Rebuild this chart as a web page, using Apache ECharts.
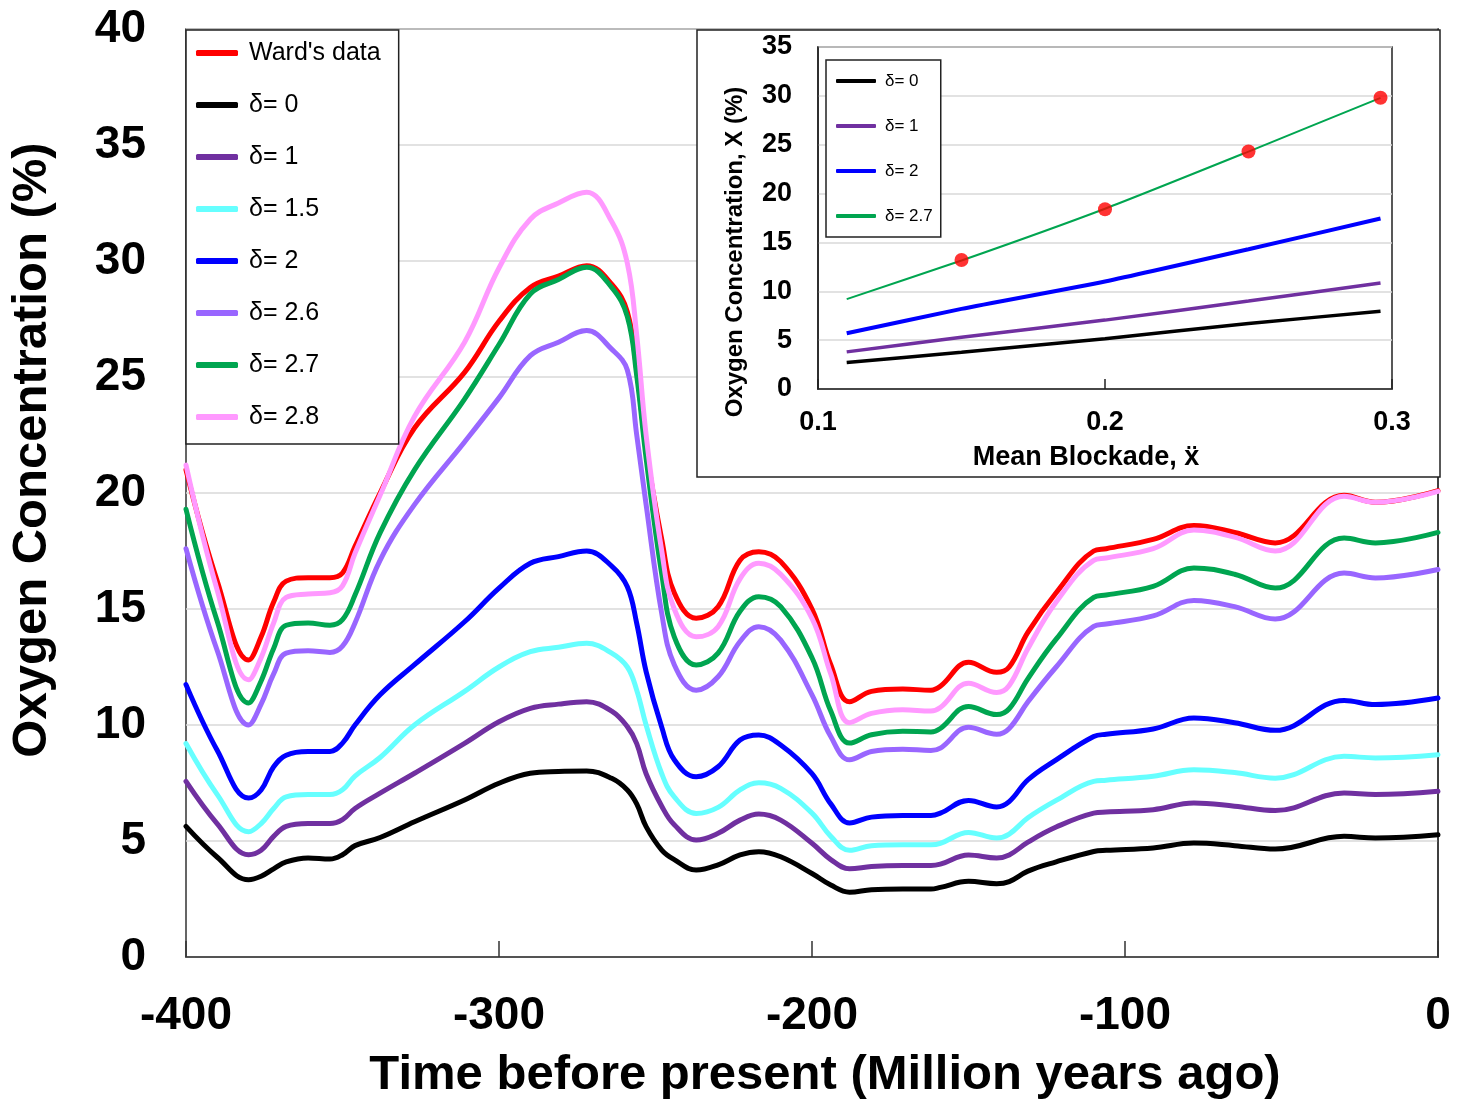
<!DOCTYPE html>
<html>
<head>
<meta charset="utf-8">
<script src="https://cdn.jsdelivr.net/npm/echarts@6/dist/echarts.min.js"></script>
<style>
html,body{margin:0;padding:0;background:#fff;}
#chart{width:1468px;height:1103px;}
</style>
</head>
<body>
<div id="chart"></div>
<script>
// ---- Main chart data (time in Myr before present) ----
const timeX = [-400,-390,-380,-376,-372,-368,-361,-354,-350,-346,-338,-327,-311,-300,-290,-281,-272,-264,-259,-256,-253,-248,-244,-237,-230,-223,-217,-210,-200,-194,-188,-181,-171,-162,-159,-150,-141,-137,-131,-122,-110,-106,-91,-78,-65,-52,-30,-20,0];

const wardData = [21.0,16.2,12.8,13.8,15.3,16.2,16.35,16.35,16.55,17.7,20.0,22.8,25.2,27.4,28.86,29.35,29.8,29.0,27.8,25.3,21.9,18.0,15.7,14.6,15.1,17.1,17.47,17.04,15.0,12.6,11.0,11.45,11.55,11.5,11.67,12.7,12.27,12.5,14.0,15.7,17.5,17.6,18.0,18.6,18.3,17.85,19.9,19.6,20.1];
const delta0 = [5.63,4.3,3.33,3.48,3.8,4.1,4.27,4.22,4.41,4.8,5.15,5.83,6.77,7.49,7.92,8.0,8.02,7.7,7.2,6.6,5.62,4.61,4.2,3.75,3.97,4.4,4.54,4.32,3.6,3.1,2.79,2.9,2.93,2.93,3.0,3.26,3.16,3.25,3.7,4.1,4.55,4.6,4.7,4.91,4.8,4.65,5.2,5.13,5.27];
const delta1 = [7.57,5.74,4.41,4.6,5.2,5.63,5.75,5.75,5.92,6.4,7.06,7.92,9.21,10.14,10.72,10.9,11.0,10.6,9.93,9.2,7.9,6.5,5.7,5.04,5.33,5.9,6.16,5.9,4.9,4.2,3.8,3.9,3.94,3.94,4.0,4.4,4.27,4.4,4.95,5.6,6.2,6.25,6.35,6.64,6.5,6.31,7.07,7.0,7.14];
const delta15 = [9.2,7.0,5.4,5.75,6.4,6.9,7.0,7.0,7.21,7.8,8.6,10.0,11.45,12.5,13.16,13.35,13.52,13.1,12.5,11.5,10.0,7.9,6.9,6.19,6.45,7.2,7.51,7.27,6.2,5.2,4.6,4.8,4.84,4.84,4.9,5.37,5.13,5.3,6.0,6.75,7.57,7.62,7.79,8.07,7.95,7.71,8.65,8.58,8.72];
const delta2 = [11.74,8.9,6.85,7.2,8.2,8.7,8.86,8.86,9.22,10.0,11.3,12.6,14.45,15.9,16.97,17.26,17.5,16.85,15.96,14.38,12.3,9.9,8.5,7.77,8.2,9.35,9.57,9.14,7.9,6.6,5.78,6.03,6.1,6.1,6.2,6.75,6.47,6.7,7.64,8.5,9.5,9.6,9.83,10.3,10.1,9.77,11.06,10.88,11.16];
const delta26 = [17.6,13.2,10.0,10.9,12.2,13.1,13.2,13.13,13.4,14.4,17.1,19.5,22.2,24.1,25.92,26.5,27.0,26.2,25.3,22.5,19.5,14.8,12.6,11.5,12.08,13.6,14.24,13.66,11.3,9.5,8.5,8.86,8.96,8.9,9.0,9.9,9.6,9.85,11.0,12.5,14.25,14.35,14.7,15.37,15.1,14.57,16.55,16.34,16.7];
const delta27 = [19.3,14.46,10.95,11.9,13.3,14.3,14.4,14.3,14.54,15.6,18.28,21.0,24.05,26.4,28.58,29.2,29.73,28.86,27.6,25.06,21.5,16.5,13.8,12.59,13.1,14.9,15.53,15.1,12.9,10.6,9.22,9.58,9.73,9.7,9.85,10.8,10.45,10.7,12.0,13.7,15.5,15.6,15.98,16.77,16.5,15.9,18.06,17.85,18.3];
const delta28 = [21.2,15.8,11.95,12.9,14.4,15.5,15.65,15.7,16.0,17.4,19.9,23.3,26.5,29.7,31.8,32.5,32.96,31.7,29.9,26.8,22.5,17.5,15.0,13.8,14.24,16.3,16.97,16.5,14.6,12.2,10.1,10.5,10.66,10.6,10.75,11.8,11.4,11.7,13.3,15.3,17.1,17.2,17.6,18.4,18.1,17.5,19.86,19.6,20.07];

const mainYTicks = [0,5,10,15,20,25,30,35,40];
const mainXTicks = [-400,-300,-200,-100,0];

// ---- Inset data (mean blockade) ----
const blockX = [0.11,0.15,0.2,0.25,0.296];
const inset0 = [2.7,3.75,5.15,6.7,7.95];
const inset1 = [3.8,5.3,7.05,9.0,10.85];
const inset2 = [5.7,8.2,11.0,14.3,17.45];
const inset27 = [9.2,13.15,18.45,24.3,29.8];
const wardPtsX = [0.15,0.2,0.25,0.296];
const wardPtsY = [13.2,18.4,24.3,29.8];

const pairs = (xs, ys) => xs.map((x,i)=>[x,ys[i]]);

const FONT = 'Liberation Sans, Arial, sans-serif';
const chart = echarts.init(document.getElementById('chart'), null, {renderer:'canvas'});

const mainSeriesDefs = [
  {name:"Ward's data", data:wardData, color:'#FF0000'},
  {name:'δ= 0', data:delta0, color:'#000000'},
  {name:'δ= 1', data:delta1, color:'#7030A0'},
  {name:'δ= 1.5', data:delta15, color:'#66FFFF'},
  {name:'δ= 2', data:delta2, color:'#0000FF'},
  {name:'δ= 2.6', data:delta26, color:'#9966FF'},
  {name:'δ= 2.7', data:delta27, color:'#00A550'},
  {name:'δ= 2.8', data:delta28, color:'#FF99FF'}
];

const series = mainSeriesDefs.map(d => ({
  type:'line', name:d.name, xAxisIndex:0, yAxisIndex:0,
  data: pairs(timeX, d.data), showSymbol:false, symbol:'none',
  smooth:0.4,
  color:d.color, lineStyle:{color:d.color, width:5, cap:'round', join:'round'}, z:2
}));

const insetDefs = [
  {name:'δ= 0', data:inset0, color:'#000000', w:3.5},
  {name:'δ= 1', data:inset1, color:'#7030A0', w:3.5},
  {name:'δ= 2', data:inset2, color:'#0000FF', w:4},
  {name:'δ= 2.7', data:inset27, color:'#00A550', w:2}
];
insetDefs.forEach(d => series.push({
  type:'line', name:d.name, xAxisIndex:1, yAxisIndex:1,
  data: pairs(blockX, d.data), showSymbol:false, symbol:'none',
  smooth:0.2, color:d.color, lineStyle:{color:d.color, width:d.w}, z:6
}));
series.push({
  type:'scatter', name:'Ward points', xAxisIndex:1, yAxisIndex:1,
  data: pairs(wardPtsX, wardPtsY), symbolSize:14,
  itemStyle:{color:'#FF0000'}, z:7
});

const option = {
  backgroundColor:'#fff',
  animation:false,
  grid:[
    {left:186, top:29, right:30, bottom:146, show:true, borderColor:'#333', borderWidth:1.5, z:0},
    {left:818, top:47, right:76, bottom:714, show:true, borderColor:'#222', borderWidth:1.5, backgroundColor:'transparent', z:3}
  ],
  xAxis:[
    {type:'value', gridIndex:0, min:-400, max:0, interval:100,
      axisLine:{show:true, lineStyle:{color:'#333', width:1.5}},
      axisTick:{show:true, inside:true, length:16, lineStyle:{color:'#333', width:1.5}},
      splitLine:{show:false},
      axisLabel:{fontFamily:FONT, fontWeight:'bold', fontSize:46, color:'#000', margin:36}, z:0},
    {type:'value', gridIndex:1, min:0.1, max:0.3, interval:0.1,
      axisLine:{show:true, lineStyle:{color:'#222', width:1.5}},
      axisTick:{show:true, inside:true, length:10, lineStyle:{color:'#222', width:1.5}},
      splitLine:{show:false},
      axisLabel:{fontFamily:FONT, fontWeight:'bold', fontSize:27, color:'#000', margin:20,
        formatter:v=>v.toFixed(1)}, z:4}
  ],
  yAxis:[
    {type:'value', gridIndex:0, min:0, max:40, interval:5,
      axisLine:{show:true, lineStyle:{color:'#333', width:1.5}},
      axisTick:{show:false},
      splitLine:{show:true, lineStyle:{color:'#D9D9D9', width:1.5}},
      axisLabel:{fontFamily:FONT, fontWeight:'bold', fontSize:46, color:'#000', margin:40}, z:0},
    {type:'value', gridIndex:1, min:0, max:35, interval:5,
      axisLine:{show:true, lineStyle:{color:'#222', width:1.5}},
      axisTick:{show:false},
      splitLine:{show:true, lineStyle:{color:'#D9D9D9', width:1.5}},
      axisLabel:{fontFamily:FONT, fontWeight:'bold', fontSize:27, color:'#000', margin:26}, z:4}
  ],
  legend:[
    {orient:'vertical', left:186, top:30, data:mainSeriesDefs.map(d=>d.name),
      icon:'roundRect', itemWidth:42, itemHeight:6, itemGap:22,
      textStyle:{fontFamily:FONT, fontSize:25, color:'#000', lineHeight:30, padding:[0,0,0,6]},
      padding:[8,18,12,10], borderColor:'#222', borderWidth:1.5, backgroundColor:'#fff', z:10},
    {orient:'vertical', left:826, top:60, data:insetDefs.map(d=>d.name),
      icon:'roundRect', itemWidth:40, itemHeight:4, itemGap:25,
      textStyle:{fontFamily:FONT, fontSize:17, color:'#000', lineHeight:20, padding:[0,0,0,4]},
      padding:[11,8,11,10], borderColor:'#222', borderWidth:1.5, backgroundColor:'#fff', z:10}
  ],
  graphic:[
    {type:'rect', z:1, shape:{x:697, y:30, width:743, height:447},
      style:{fill:'#fff', stroke:'#222', lineWidth:1.5}},
    {type:'text', z:10, x:32, y:450, rotation:Math.PI/2,
      style:{text:'Oxygen Concentration (%)', font:'bold 49px '+FONT, fill:'#000', align:'center', verticalAlign:'middle'}},
    {type:'text', z:10, x:825, y:1075,
      style:{text:'Time before present (Million years ago)', font:'bold 49px '+FONT, fill:'#000', align:'center', verticalAlign:'middle'}},
    {type:'text', z:10, x:735, y:252, rotation:Math.PI/2,
      style:{text:'Oxygen Concentration, X (%)', font:'bold 24px '+FONT, fill:'#000', align:'center', verticalAlign:'middle'}},
    {type:'text', z:10, x:1086, y:458,
      style:{text:'Mean Blockade, ẍ', font:'bold 27px '+FONT, fill:'#000', align:'center', verticalAlign:'middle'}}
  ],
  series: series
};
chart.setOption(option);
</script>
</body>
</html>
